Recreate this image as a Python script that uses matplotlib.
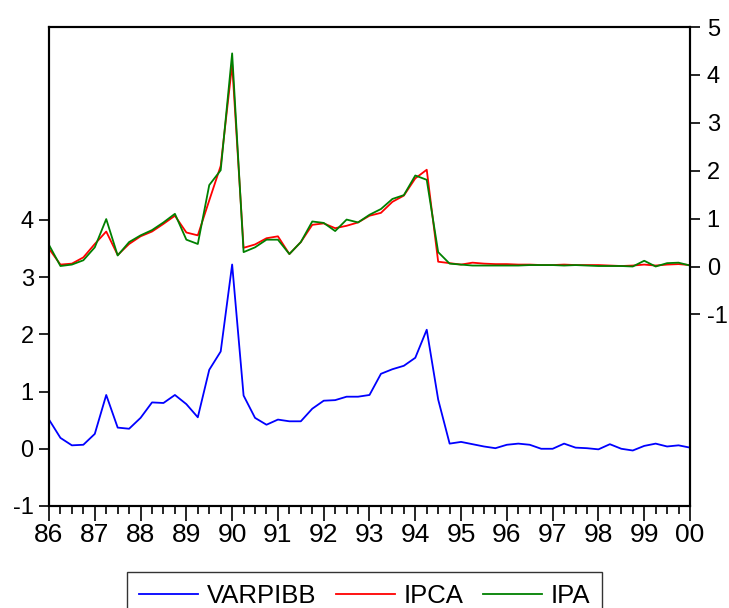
import numpy as np
import matplotlib.pyplot as plt
from matplotlib.ticker import FixedLocator, MultipleLocator

plt.rcParams["font.family"] = ["Liberation Sans", "DejaVu Sans"]
plt.rcParams["axes.unicode_minus"] = False

# Quarterly series, 1986Q1 .. 2000Q1
start_year = 1986
varpibb = [
    0.51, 0.19, 0.06, 0.07, 0.26, 0.94, 0.37, 0.35, 0.54, 0.81,
    0.80, 0.94, 0.78, 0.55, 1.38, 1.70, 3.22, 0.93, 0.54, 0.42,
    0.51, 0.48, 0.48, 0.70, 0.84, 0.85, 0.91, 0.91, 0.94, 1.31,
    1.39, 1.45, 1.59, 2.08, 0.86, 0.09, 0.12, 0.08, 0.04, 0.01,
    0.07, 0.09, 0.07, 0.00, 0.00, 0.09, 0.02, 0.01, -0.01, 0.08,
    0.00, -0.03, 0.05, 0.09, 0.04, 0.06, 0.02,
]
ipca = [
    0.37, 0.04, 0.06, 0.19, 0.47, 0.73, 0.24, 0.47, 0.63, 0.73,
    0.89, 1.06, 0.71, 0.65, 1.38, 2.10, 4.22, 0.39, 0.46, 0.59,
    0.63, 0.26, 0.51, 0.87, 0.90, 0.80, 0.85, 0.92, 1.06, 1.12,
    1.35, 1.48, 1.84, 2.02, 0.10, 0.07, 0.04, 0.08, 0.06, 0.05,
    0.05, 0.04, 0.04, 0.03, 0.03, 0.04, 0.03, 0.03, 0.03, 0.02,
    0.01, 0.02, 0.04, 0.02, 0.04, 0.05, 0.03,
]
ipa = [
    0.45, 0.01, 0.04, 0.13, 0.40, 0.99, 0.23, 0.51, 0.65, 0.76,
    0.92, 1.10, 0.56, 0.47, 1.70, 2.01, 4.45, 0.30, 0.40, 0.56,
    0.56, 0.26, 0.51, 0.94, 0.91, 0.74, 0.98, 0.92, 1.08, 1.20,
    1.41, 1.49, 1.90, 1.81, 0.30, 0.06, 0.04, 0.02, 0.02, 0.02,
    0.02, 0.02, 0.03, 0.03, 0.03, 0.02, 0.03, 0.02, 0.01, 0.01,
    0.01, 0.00, 0.12, 0.00, 0.07, 0.08, 0.02,
]
year_labels = ["86", "87", "88", "89", "90", "91", "92",
               "93", "94", "95", "96", "97", "98", "99", "00"]

t = start_year + np.arange(len(varpibb)) * 0.25
years = start_year + np.arange(len(year_labels))

fig = plt.figure(figsize=(7.29, 6.08), dpi=100)
ax = fig.add_axes([49 / 729, 1 - 506 / 608, 641 / 729, 479 / 608])
ax2 = ax.twinx()

l1, = ax.plot(t, varpibb, color="#0000ff", lw=1.3, label="VARPIBB")
l2, = ax2.plot(t, ipca, color="#ff0000", lw=1.3, label="IPCA")
l3, = ax2.plot(t, ipa, color="#008000", lw=1.3, label="IPA")

ax.set_xlim(t[0], t[-1])
ax.set_ylim(-1, 7.37)
ax2.set_ylim(-5, 5)

ax.yaxis.set_major_locator(FixedLocator([-1, 0, 1, 2, 3, 4]))
ax2.yaxis.set_major_locator(FixedLocator([-1, 0, 1, 2, 3, 4, 5]))
ax.set_xticks(years)
ax.set_xticklabels(year_labels)
ax.xaxis.set_minor_locator(MultipleLocator(0.25))

ax.tick_params(axis="x", which="major", direction="out", length=11,
               width=1.2, labelsize=19, pad=1)
ax.tick_params(axis="x", which="minor", direction="out", length=6,
               width=1.2)
ax.tick_params(axis="y", direction="out", length=7, width=1.2,
               labelsize=17, pad=4)
ax2.tick_params(axis="y", direction="out", length=7, width=1.2,
                labelsize=17, pad=5)

for a in (ax, ax2):
    for s in a.spines.values():
        s.set_linewidth(1.5)

fig.legend(handles=[l1, l2, l3], loc="upper center",
           bbox_to_anchor=(0.5, 1 - 572 / 608), ncol=3, fontsize=18.5,
           frameon=True, fancybox=False, edgecolor="black",
           handlelength=2.3, handletextpad=0.35, columnspacing=0.75,
           borderpad=0.45, borderaxespad=0)
fig.legends[0].get_frame().set_linewidth(1.0)

fig.savefig("out.png", dpi=100)
